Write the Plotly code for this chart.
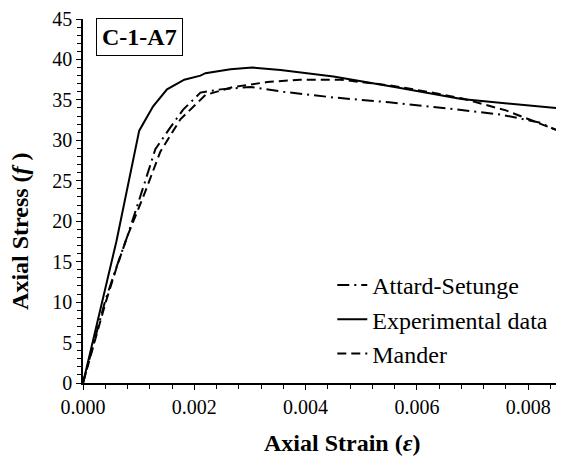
import plotly.graph_objects as go

# Attard-Setunge model (dash-dot)
as_strain = [0, 0.0002, 0.0004, 0.0006, 0.0008, 0.00105, 0.0013, 0.00157, 0.0018,
             0.00211, 0.00247, 0.00301, 0.0036, 0.0045, 0.0055, 0.0066, 0.0075, 0.0082, 0.0085]
as_stress = [0, 5.2, 10.2, 14.3, 18.2, 23.5, 28.9, 31.6, 33.8,
             35.9, 36.3, 36.6, 36.0, 35.3, 34.7, 33.9, 33.2, 32.2, 31.3]

# Experimental data (solid)
ex_strain = [0, 0.0006, 0.00101, 0.00126, 0.00151, 0.00182, 0.00211, 0.0022, 0.00265,
             0.00304, 0.00355, 0.0045, 0.0056, 0.0068, 0.0085]
ex_stress = [0, 17.5, 31.2, 34.2, 36.3, 37.5, 38.0, 38.3, 38.8,
             39.0, 38.7, 37.9, 36.6, 35.1, 34.0]

# Mander model (dashed)
ma_strain = [0, 0.0002, 0.0004, 0.0006, 0.0008, 0.00111, 0.00139, 0.00175, 0.00198,
             0.0022, 0.0027, 0.00331, 0.0039, 0.00463, 0.0055, 0.0062, 0.0068, 0.0076, 0.0085]
ma_stress = [0, 5.0, 9.8, 14.2, 18.2, 23.5, 28.6, 32.6, 34.2,
             35.6, 36.6, 37.2, 37.5, 37.5, 36.8, 36.0, 35.2, 33.7, 31.3]

x_ticks = [0, 0.002, 0.004, 0.006, 0.008]
x_tick_labels = ["0.000", "0.002", "0.004", "0.006", "0.008"]

FONT = "Liberation Serif"

fig = go.Figure()
fig.add_trace(go.Scatter(x=as_strain, y=as_stress, mode="lines", name="Attard-Setunge",
                         line=dict(color="black", width=2, dash="12px,5px,2px,5px")))
fig.add_trace(go.Scatter(x=ex_strain, y=ex_stress, mode="lines", name="Experimental data",
                         line=dict(color="black", width=2)))
fig.add_trace(go.Scatter(x=ma_strain, y=ma_stress, mode="lines", name="Mander",
                         line=dict(color="black", width=2, dash="9px,5px")))

fig.update_layout(
    width=566, height=459,
    margin=dict(l=83, r=10, t=19, b=76),
    paper_bgcolor="white", plot_bgcolor="white",
    font=dict(family=FONT, size=20, color="black"),
    showlegend=True,
    legend=dict(x=0.527, y=0.33, xanchor="left", yanchor="top",
                bgcolor="rgba(0,0,0,0)", font=dict(size=24, family=FONT),
                tracegroupgap=0, itemwidth=30),
    xaxis=dict(
        range=[0, 0.0085], tickvals=x_ticks, ticktext=x_tick_labels,
        showline=True, linecolor="black", linewidth=1.5, mirror=False,
        showgrid=False, zeroline=False, automargin=False,
        ticks="outside", ticklen=5, tickcolor="black", tickwidth=1,
        minor=dict(dtick=0.0004, ticks="outside", ticklen=4, tickcolor="black", showgrid=False),
        tickfont=dict(size=20, family=FONT),
    ),
    yaxis=dict(
        range=[0, 45], dtick=5,
        showline=True, linecolor="black", linewidth=1.5, mirror=False,
        showgrid=False, zeroline=False, automargin=False,
        ticks="outside", ticklen=5, tickcolor="black", tickwidth=1,
        minor=dict(dtick=1, ticks="outside", ticklen=4, tickcolor="black", showgrid=False),
        tickfont=dict(size=20, family=FONT),
    ),
    annotations=[
        dict(x=0.0275, y=1.003, xref="paper", yref="paper", xanchor="left", yanchor="top",
             text="<b>C-1-A7</b>", showarrow=False,
             font=dict(size=24, family=FONT, color="black"),
             bordercolor="black", borderwidth=1, borderpad=5, bgcolor="white"),
        dict(x=0.549, y=-0.164, xref="paper", yref="paper", xanchor="center", yanchor="middle",
             text="<b>Axial Strain (<i>ε</i>)</b>", showarrow=False,
             font=dict(size=24, family=FONT, color="black")),
        dict(x=-0.133, y=0.418, xref="paper", yref="paper", xanchor="center", yanchor="middle",
             text="<b>Axial Stress (<i>f</i> )</b>", showarrow=False, textangle=-90,
             font=dict(size=24, family=FONT, color="black")),
    ],
)

fig.write_html("out.html", config={"displayModeBar": False},
               post_script="document.body.style.margin='0';")
